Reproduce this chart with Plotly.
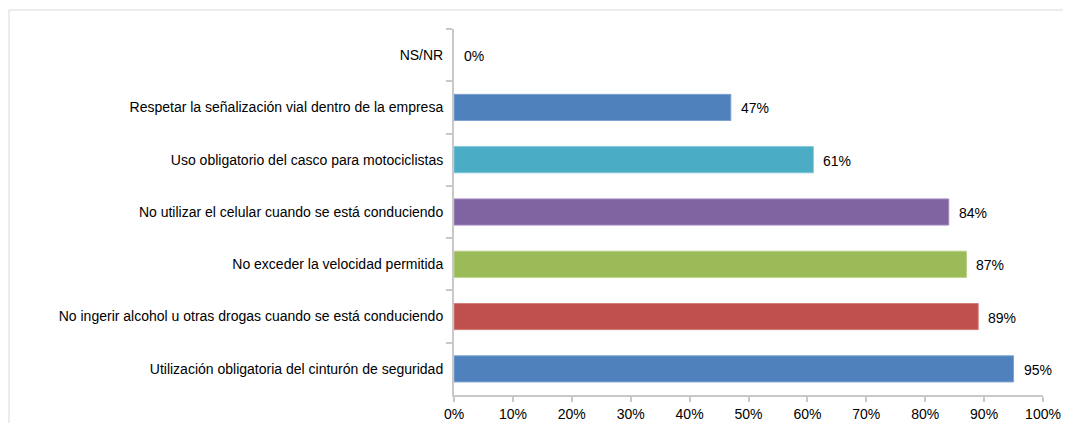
import plotly.graph_objects as go

categories = [
    "NS/NR",
    "Respetar la señalización vial dentro de la empresa",
    "Uso obligatorio del casco para motociclistas",
    "No utilizar el celular cuando se está conduciendo",
    "No exceder la velocidad permitida",
    "No ingerir alcohol u otras drogas cuando se está conduciendo",
    "Utilización obligatoria del cinturón de seguridad",
]
values = [0, 47, 61, 84, 87, 89, 95]
colors = ["#4F81BD", "#4F81BD", "#4BACC6", "#8064A2", "#9BBB59", "#C0504D", "#4F81BD"]
edge_colors = ["#7FA3D1", "#7FA3D1", "#7CC3D6", "#A08BBC", "#B7CF86", "#D27F7C", "#7FA3D1"]
tick_vals = [i / 10 for i in range(11)]
tick_text = [f"{i * 10}%" for i in range(11)]

font_family = "Liberation Sans, DejaVu Sans, sans-serif"

W, H = 1055, 415
L, R, T, B = 446, 20, 21, 28
pw, ph = W - L - R, H - T - B

fig = go.Figure()
fig.add_trace(go.Bar(
    y=categories,
    x=[v / 100 for v in values],
    orientation="h",
    marker=dict(color=colors,
                line=dict(color=edge_colors, width=[0 if v == 0 else 1 for v in values])),
    width=0.5,
    hoverinfo="skip",
))

for c, v in zip(categories, values):
    fig.add_annotation(
        x=v / 100, y=c, text=f"{v}%", showarrow=False,
        xanchor="left", xshift=8, yshift=-1,
        font=dict(family=font_family, size=14, color="#000000"),
    )

fig.update_layout(
    width=W, height=H,
    margin=dict(l=L, r=R, t=T, b=B),
    paper_bgcolor="white", plot_bgcolor="white",
    showlegend=False,
    font=dict(family=font_family, size=14, color="#000000"),
    xaxis=dict(
        range=[0, 1], tickvals=tick_vals, ticktext=tick_text,
        showgrid=False, zeroline=False, automargin=False,
        showline=True, linecolor="#C8C8C8", linewidth=2,
        ticks="outside", ticklen=5, tickcolor="#C8C8C8", tickwidth=2,
        tickfont=dict(size=14),
    ),
    yaxis=dict(
        autorange="reversed", showgrid=False, zeroline=False, automargin=False,
        showline=True, linecolor="#C8C8C8", linewidth=2,
        ticks="outside", ticklen=6, tickcolor="#C8C8C8", tickwidth=2,
        tickson="boundaries",
        tickfont=dict(size=14),
        ticklabelstandoff=6,
    ),
    shapes=[dict(
        type="rect", xref="paper", yref="paper",
        x0=(1 - L) / pw, x1=(W + 40 - L) / pw,
        y0=(H - B - (H + 40)) / ph, y1=(H - B - 2) / ph,
        line=dict(color="#D9D9D9", width=1), fillcolor="rgba(0,0,0,0)",
        layer="below",
    )],
)

fig.write_html("out.html")
